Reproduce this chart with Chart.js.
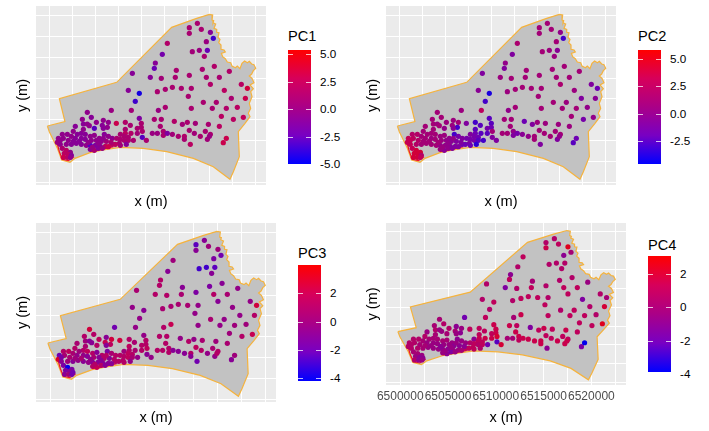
<!DOCTYPE html>
<html>
<head>
<meta charset="utf-8">
<script src="https://cdn.jsdelivr.net/npm/chart.js@4"></script>
<style>
    body { margin: 0; background: #fff; font-family: "Liberation Sans", Arial, sans-serif; }
    canvas { position: absolute; }
    .bar { position: absolute; }
    .mark { position: absolute; height: 1px; background: rgba(255,255,255,0.75); }
    .lab { position: absolute; font-size: 11.7px; line-height: 14px; color: #000; }
    .ttl { position: absolute; font-size: 14.6px; line-height: 18px; color: #000; }
</style>
</head>
<body>
<script>
// sampling points, metres (northing is relative, the picture has no y labels)
const pointX = [
    6515250,6516130,6516560,6515250,6517550,6517870,6517110,6512850,6515580,6516340,
    6517220,6512300,6516890,6511540,6517980,6511430,6516670,6513830,6519620,6509030,
    6515250,6510990,6512190,6513720,6517110,6518530,6517550,6520930,6521590,6508590,
    6509790,6511760,6512630,6513400,6514380,6515470,6519070,6515140,6519840,6521370,
    6509350,6516780,6518200,6512630,6511870,6508920,6506730,6515470,6517760,6519290,
    6520490,6504110,6518750,6521150,6520060,6504550,6509790,6511430,6512190,6513610,
    6514490,6515030,6515910,6517330,6518530,6512080,6511210,6511760,6512410,6512410,
    6512850,6513400,6514050,6514710,6514710,6515250,6515800,6516450,6517000,6517550,
    6517220,6517440,6515360,6518960,6519290,6510120,6507280,6508260,6508260,6508810,
    6510010,6509570,6510010,6510120,6509570,6508880,6508260,6507720,6508150,6508590,
    6507720,6508150,6508590,6507610,6508370,6507720,6507170,6506810,6510560,6509140,
    6503570,6503680,6504110,6504330,6502800,6504880,6505100,6505860,6506410,6505750,
    6506300,6505860,6502580,6503460,6503890,6503020,6504440,6504880,6505420,6505970,
    6506410,6506840,6501380,6501930,6500950,6501490,6500840,6502370,6502800,6503460,
    6503890,6504550,6505100,6505640,6506190,6506700,6501160,6501820,6502370,6502910,
    6503460,6504000,6504440,6504990,6505530,6506080,6506410,6501380,6501820,6502260,
    6501600,6502040,6502370,6501490,6501930,6502260,6504440,6504880,6505310,6505750,
    6504660,6502580,6503240,6504220,6505310,6505860,6501160,6502040,6503680,6507320
];
const pointY = [
    18560,19080,18360,17880,18000,17280,16880,16680,15680,15840,
    15840,15360,15120,14320,13920,13680,13560,13440,13320,13080,
    12840,12600,12480,12600,12600,12600,11760,11760,11280,11040,
    10680,10880,11160,11400,11280,11280,11040,10320,10080,10080,
    9720,9600,9600,9000,8640,8640,8640,8880,8880,8880,
    9000,8400,7920,7800,7560,7800,7680,7560,7560,7320,
    6960,7200,7080,6960,6720,6720,5880,5880,6120,5640,
    5880,5760,5520,5520,5160,6240,5880,5520,6120,5760,
    5160,5520,4560,4760,5280,5400,7080,7200,6360,6840,
    7080,6480,6600,6120,5880,5880,5880,5760,5520,5400,
    5160,5040,5040,4680,4560,4440,4560,4560,5040,5040,
    7560,7000,7000,6800,6720,6480,7200,7440,7200,6840,
    6600,6480,6120,5880,5760,5760,5520,5640,5280,5760,
    5520,5280,5760,5760,5280,5280,4800,5520,5280,5280,
    5160,5040,5040,4920,4920,4800,4560,4560,4560,4680,
    4560,4440,4440,4440,4320,4320,4280,4080,3840,3600,
    3480,3360,3240,3000,3000,3000,3960,3840,4080,4080,
    4200,4920,4920,4800,4680,5280,5040,5040,6360,5280
];
const pc1 = [
    1,1,1,1,-1,-3.5,0,1.5,0.5,0,
    -2.5,-2,1,-1,1.5,-2.5,1,1,1.5,-1,
    1,-1,0.5,1,1,1,1.5,2,3.5,-1,
    -4.5,1,1,1,1,1,2,1,1,3,
    -3.5,1,1,1,0,0.5,0,1,1,1.5,
    2,-0.5,2,2.5,2,-1,-1.5,1,1,1.5,
    0.5,1,0.5,1,2,1,0,0,1,1,
    -1.5,0.5,1,1.5,1,1,0.5,1,1,1,
    0.5,0,2,3,3,-3,3,1.5,1,1,
    1,1,1,1,0.5,1.5,2,1,1,1,
    1,1,1,1,-1,0.5,2,2,1,1,
    -0.5,-1,-0.5,-0.5,-1,-3,-0.5,-0.5,-0.5,-1,
    -0.5,-1,-0.5,-1,-1,-1,-0.5,-0.5,-0.5,-1,
    -0.5,-0.5,-0.5,-0.5,-0.5,-0.5,0,-0.5,-1,-1,
    -1,-0.5,-0.5,-0.5,0.5,1,-0.5,-0.5,-1,-1,
    -1,-0.5,-3,-1.5,-1,2,3,1,2,-0.5,
    2,2,-1,3,2,-0.5,-1,1,-1,0,
    0,-1,-1,-0.5,-0.5,-0.5,-0.5,-0.5,-0.5,1
];
const pc2 = [
    1,1,1,1,0,-3,1,1.5,1,0.5,
    -0.5,-1,0.5,0,1,-1,1,1,1,-1,
    1,0.5,1,1,1,1,1.5,-1,-2,-0.5,
    -4,0.5,1,1,1,1,0.5,1,-1,-0.5,
    -3,1,0.5,1,0,2.5,0.5,1,1,1,
    0,1,1,0,-1.5,1,-2.5,1,1,-2,
    -1,0.5,0.5,0.5,0.5,1,1,1,0,-1,
    -1.5,-0.5,0,1,1,1,1,1,1,1,
    -1,0,-1,-2.5,-2,-1,-1,-3,-2.5,-2.5,
    -2.5,-1.5,-2,1,-2.5,-2.5,-2,-1,-1.5,-2,
    -1.5,-1.5,-2.5,-1,-3.5,-2,-2,-2,-1,-3,
    1,1,0.5,1,1,0,0.5,0.5,1,0.5,
    -3,-0.5,1,1,1,1,0.5,0.5,0,-3,
    -1.5,-1,2,2,3,2.5,3,1,1,0.5,
    1,0.5,0,-0.5,-1,-1,3,2,1,1,
    1,1,0,0,-1,-1,-1,3,4,4,
    4,4,2,4,4,3,0.5,-0.5,0,-1,
    0.5,1,1,1,0,0,3,2,1,-1.5
];
const pc3 = [
    -2.5,-1,0,-1,0,-2,-1.5,0,-3,-3,
    -2.5,-1,-1,1,-1,1,-1.5,-1,-0.5,0.5,
    -1.5,1,1,0.5,1,0.5,-1,-0.5,2.5,-0.5,
    -1,0.5,0.5,0.5,0.5,-0.5,-0.5,-0.5,-0.5,1,
    -0.5,0.5,-0.5,2,1,-0.5,-2,-0.5,-0.5,0,
    0,2.5,0,2,1,1,-0.5,1,1,-0.5,
    1,-0.5,0.5,0,0.5,1,1,1,1,1,
    -1,-1,-1,1,-1,1.5,1,-0.5,0.5,1,
    -0.5,1,-2,-1,0,-1,2.5,1,1.5,0.5,
    1,1,1,1.5,1,0.5,1,0,1.5,1,
    1,1.5,0.5,1,-0.5,1,1,1,-0.5,-0.5,
    1,0,-1,-1,0.5,1,1.5,-1,2.5,2,
    1.5,-1,1,1,1.5,0,1,-1,1,-1.5,
    0.5,1,1,1.5,-2,0.5,3,0.5,-0.5,-0.5,
    -1,0.5,-1,1,-1,1,-1,0,-1,-0.5,
    -1,-0.5,-1,-1,-1,-1,-1,-1.5,-4,-1.5,
    -1.5,-1,-2,-1,0,-2,1,2,1,-1,
    1,0,0.5,-0.5,-1,1,-1.5,0.5,0.5,1
];
const pc4 = [
    0.5,0.5,1,1.5,2.5,0,-1,1,0.5,0.5,
    0.5,0.5,0.5,-1,0.5,1,0.5,0,-0.5,0.5,
    0.5,-1.5,0.5,1,1,1,1,0.5,0,0.5,
    1,0.5,1,1,1,0.5,-1.5,1,0.5,2,
    0.5,0.5,1,1.5,0,1,-2,1,1,1,
    0.5,0,1,2.5,1,0.5,1.5,1.5,1,-1.5,
    1,1.5,1,1.5,1,1.5,0,0,1.5,1,
    1.5,1.5,1.5,1.5,1.5,1,1,1.5,1,1,
    1.5,1.5,-1,-1.5,-4,-2.5,1,1,1,1,
    1.5,1,1.5,2,1.5,1.5,1.5,-1,1,1,
    1,0.5,1,1,0.5,1,1,1,2,-2,
    0,0.5,-0.5,-0.5,-0.5,0,0.5,-1,-0.5,0,
    -1,-0.5,0.5,0,0,0,0,0,-0.5,-1,
    -0.5,-0.5,0.5,0.5,0.5,0.5,0.5,0,-0.5,-0.5,
    -0.5,-0.5,-0.5,-1,-1,-1,0.5,0.5,0,-0.5,
    -0.5,-0.5,-1,-1,-0.5,-0.5,0,0,0,-0.5,
    -0.5,-1,-1,0.5,-1,-0.5,-0.5,-1,-1.5,-0.5,
    -0.5,0,-0.5,-1,-0.5,-0.5,0.5,0,0,0.5
];

// study area outline
const areaX = [
    6499750,6501670,6501060,6507320,6513320,6516050,6517440,6517800,6517730,6517910,
    6517840,6518130,6517950,6518240,6518240,6518490,6518380,6518600,6518460,6518710,
    6518710,6519040,6519180,6518750,6518890,6519180,6519400,6519770,6519910,6520280,
    6520490,6520780,6521000,6521290,6521590,6521800,6522060,6522310,6522500,6522240,
    6522060,6521800,6522100,6522310,6521880,6522240,6521950,6522100,6521800,6521950,
    6521690,6521880,6521330,6520600,6520710,6520060,6519690,6517870,6515690,6512780,
    6510230,6507680,6505860,6504400,6502770,6502220,6501310,6500840,6500400,6499960,
    6499750
];
const areaY = [
    6760,7280,10040,12000,18600,19680,20160,20080,19480,19400,
    19160,19000,18480,18360,18000,17960,17400,17160,16760,16480,
    15960,15880,15640,15480,15080,14840,14440,14360,13960,13760,
    13960,13640,14280,14560,14360,14520,14200,14120,13680,13400,
    13000,12760,12480,11960,11680,11240,10880,10280,9480,8880,
    8280,7880,7080,6080,3080,1280,360,1880,2880,3680,
    4080,4200,3880,3560,2880,2400,2680,4080,5080,6080,
    6760
];
// red rim along the shore
const rimX = [6500840,6501060,6501380,6502040,6502660,null,6504400,6505500,6506950];
const rimY = [4600,3680,2760,2600,3080,null,3680,3880,4280];

const xBreaks = [6500000,6502500,6505000,6507500,6510000,6512500,6515000,6517500,6520000,6522500];
const xLabels = ['6500000','','6505000','','6510000','','6515000','','6520000',''];
const yBreaks = [0,2500,5000,7500,10000,12500,15000,17500,20000];

const pc1Range = [-5, 5.4];
const pc2Range = [-4.6, 5.8];
const pc3Range = [-4.2, 4.0];
const pc4Range = [-3.86, 3.08];
const pc1Ticks = [5, 2.5, 0, -2.5, -5];
const pc2Ticks = [5, 2.5, 0, -2.5];
const pc3Ticks = [2, 0, -2, -4];
const pc4Ticks = [2, 0, -2, -4];
const pc1Labels = ['5.0', '2.5', '0.0', '-2.5', '-5.0'];
const pc2Labels = ['5.0', '2.5', '0.0', '-2.5'];
const pc3Labels = ['2', '0', '-2', '-4'];
const pc4Labels = ['2', '0', '-2', '-4'];

// blue to red, going through purple like the ggplot gradient
const rampStops = [[0, 0, 255], [120, 0, 195], [170, 0, 135], [215, 0, 90], [255, 0, 0]];

// dots read a little darker than the bar
function rampColor(t, dim) {
    const pos = Math.min(Math.max(t, 0), 1) * (rampStops.length - 1);
    const i = Math.min(Math.floor(pos), rampStops.length - 2);
    const f = pos - i;
    const c = rampStops[i].map((v, k) => Math.round((v + (rampStops[i + 1][k] - v) * f) * dim));
    return `rgb(${c[0]},${c[1]},${c[2]})`;
}

const panelBackground = {
    id: 'panelBackground',
    beforeDraw(chart) {
        const a = chart.chartArea;
        chart.ctx.fillStyle = '#EBEBEB';
        chart.ctx.fillRect(a.left, a.top, a.right - a.left, a.bottom - a.top);
    }
};

function toPoints(xs, ys) {
    return xs.map((x, i) => ({ x: x, y: ys[i] }));
}

function drawPanel(p) {
    const canvas = document.createElement('canvas');
    const w = p.plotW + 36;
    const h = p.plotTop + p.plotH + p.axisH;
    canvas.width = w;
    canvas.height = h;
    canvas.style.left = (p.plotLeft - 36) + 'px';
    canvas.style.top = (p.top) + 'px';
    document.body.appendChild(canvas);

    const lo = p.range[0];
    const hi = p.range[1];

    new Chart(canvas.getContext('2d'), {
        type: 'scatter',
        data: {
            datasets: [{
                data: toPoints(pointX, pointY),
                backgroundColor: p.values.map(v => rampColor((v - lo) / (hi - lo), 0.92)),
                pointRadius: 2.6,
                pointBorderWidth: 0,
                order: 1
            }, {
                data: toPoints(rimX, rimY),
                showLine: true,
                borderColor: '#F0102A',
                borderWidth: 1.2,
                pointRadius: 0,
                spanGaps: false,
                order: 2
            }, {
                data: toPoints(areaX, areaY),
                showLine: true,
                fill: 'shape',
                backgroundColor: '#C2C2C2',
                borderColor: '#F5B33E',
                borderWidth: 1.2,
                pointRadius: 0,
                tension: 0,
                order: 3
            }]
        },
        options: {
            responsive: false,
            animation: false,
            layout: { autoPadding: false, padding: { top: p.plotTop, left: 0, right: 0, bottom: 0 } },
            plugins: { legend: { display: false }, tooltip: { enabled: false } },
            scales: {
                x: {
                    type: 'linear',
                    min: 6498508,
                    max: 6523624,
                    afterBuildTicks: axis => { axis.ticks = xBreaks.map(v => ({ value: v })); },
                    afterFit: axis => { axis.height = p.axisH; },
                    grid: { color: '#fff', lineWidth: 1, drawTicks: false },
                    border: { display: false },
                    ticks: {
                        display: p.showX,
                        autoSkip: false,
                        maxRotation: 0,
                        minRotation: 0,
                        padding: 4,
                        color: '#4D4D4D',
                        font: { family: 'Liberation Sans', size: 12 },
                        callback: (v, i) => xLabels[i]
                    },
                    title: {
                        display: true,
                        text: 'x (m)',
                        color: '#000',
                        font: { family: 'Liberation Sans', size: 14.6 },
                        padding: { top: 0, bottom: 4 }
                    }
                },
                y: {
                    type: 'linear',
                    min: -320,
                    max: 21160,
                    afterBuildTicks: axis => { axis.ticks = yBreaks.map(v => ({ value: v })); },
                    afterFit: axis => { axis.width = 36; },
                    grid: { color: '#fff', lineWidth: 1, drawTicks: false },
                    border: { display: false },
                    ticks: { display: false },
                    title: {
                        display: true,
                        text: 'y (m)',
                        color: '#000',
                        font: { family: 'Liberation Sans', size: 14.6 },
                        padding: { top: 14, bottom: 0 }
                    }
                }
            }
        },
        plugins: [panelBackground]
    });
}

function addDiv(className, left, top, text) {
    const el = document.createElement('div');
    el.className = className;
    el.style.left = left + 'px';
    el.style.top = top + 'px';
    if (text) el.textContent = text;
    document.body.appendChild(el);
    return el;
}

// colour bar next to each panel
function drawColorBar(b) {
    const bar = addDiv('bar', b.left, b.top);
    const steps = rampStops.map((s, i) => `rgb(${s.join(',')}) ${i * 25}%`).join(',');
    bar.style.width = '23px';
    bar.style.height = b.height + 'px';
    bar.style.background = `linear-gradient(to top, ${steps})`;

    addDiv('ttl', b.left, b.titleTop, b.title);

    b.ticks.forEach((t, i) => {
        const y = b.top + (b.range[1] - t) / (b.range[1] - b.range[0]) * b.height;
        addDiv('lab', b.left + 32, y - 7, b.labels[i]);
        if (y <= b.top + b.height) {
            addDiv('mark', b.left, y, '').style.width = '5px';
            addDiv('mark', b.left + 18, y, '').style.width = '5px';
        }
    });
}

drawPanel({ values: pc1, range: pc1Range, plotLeft: 36, top: 0, plotTop: 6, plotW: 230, plotH: 179, axisH: 30, showX: false });
drawPanel({ values: pc2, range: pc2Range, plotLeft: 386, top: 0, plotTop: 6, plotW: 230, plotH: 179, axisH: 30, showX: false });
drawPanel({ values: pc3, range: pc3Range, plotLeft: 36, top: 217, plotTop: 6, plotW: 240, plotH: 179, axisH: 29, showX: false });
drawPanel({ values: pc4, range: pc4Range, plotLeft: 386, top: 217, plotTop: 6, plotW: 240, plotH: 162, axisH: 46, showX: true });

drawColorBar({ title: 'PC1', ticks: pc1Ticks, labels: pc1Labels, range: pc1Range, left: 288, top: 50, height: 114, titleTop: 27 });
drawColorBar({ title: 'PC2', ticks: pc2Ticks, labels: pc2Labels, range: pc2Range, left: 638, top: 50, height: 114, titleTop: 27 });
drawColorBar({ title: 'PC3', ticks: pc3Ticks, labels: pc3Labels, range: pc3Range, left: 298, top: 265, height: 116, titleTop: 244 });
drawColorBar({ title: 'PC4', ticks: pc4Ticks, labels: pc4Labels, range: pc4Range, left: 648, top: 256, height: 116, titleTop: 236 });
</script>
</body>
</html>
